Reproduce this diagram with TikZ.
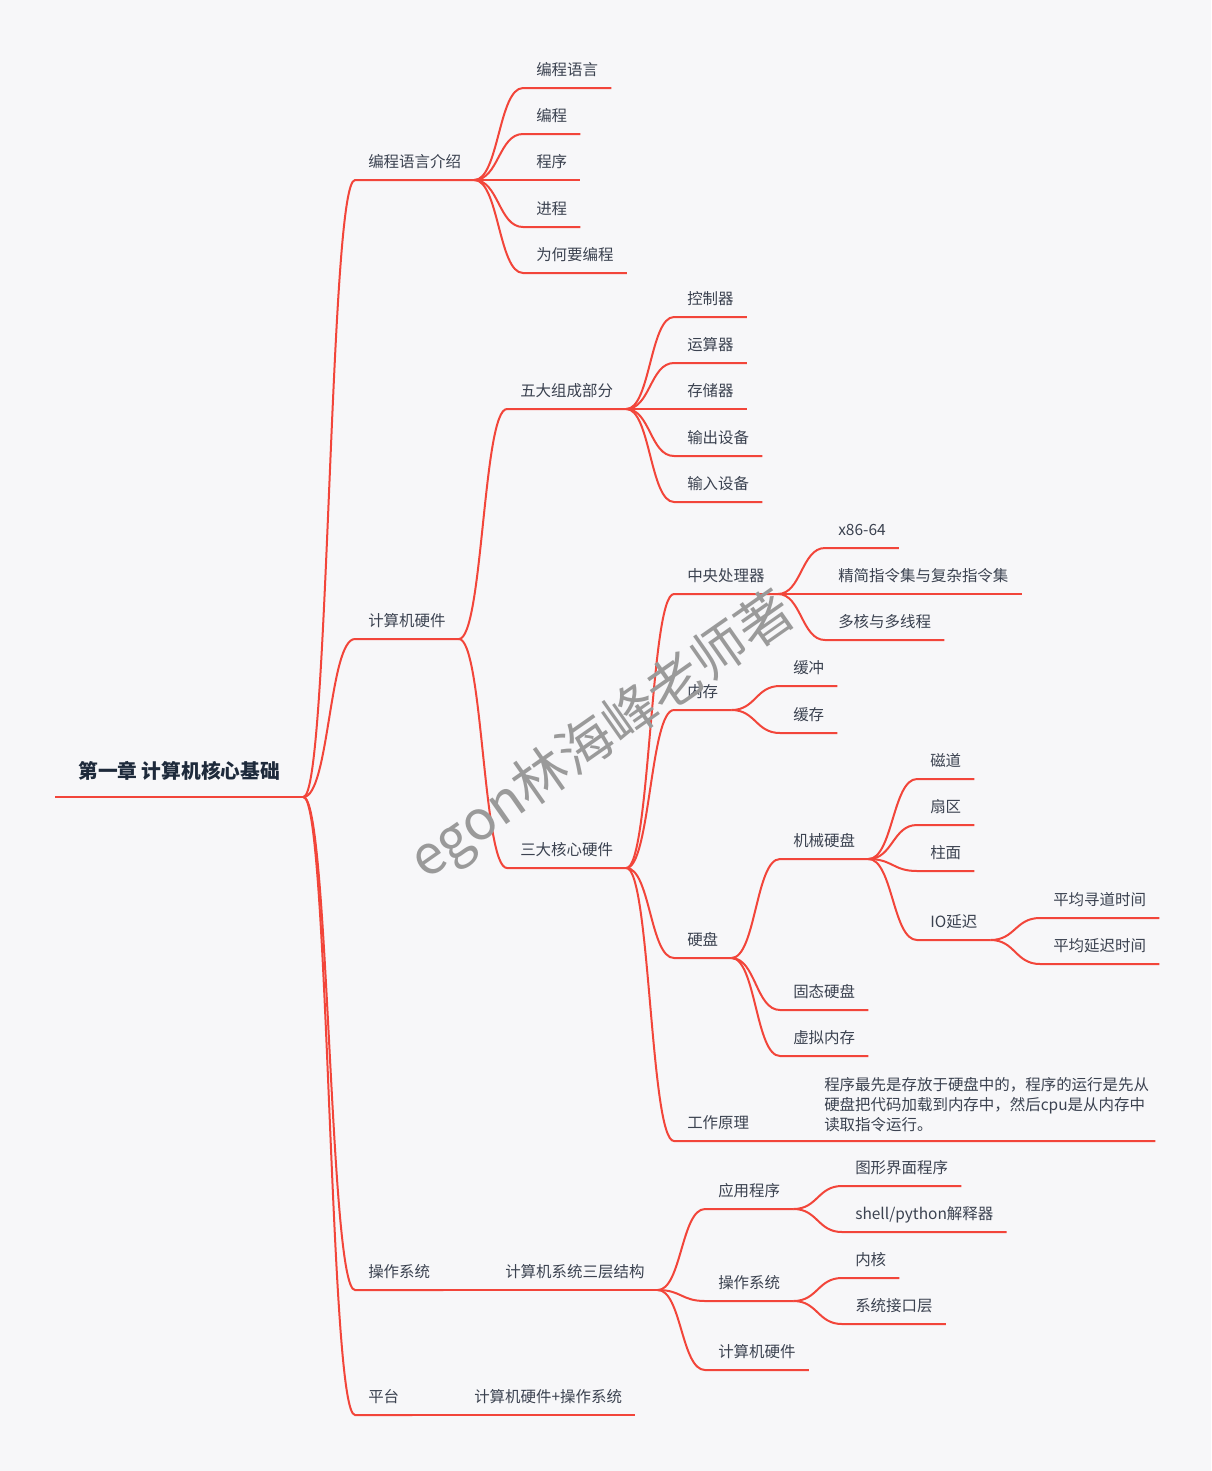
\documentclass[tikz,border=0pt]{standalone}
\usepackage{fontspec}
\setmainfont{Noto Sans CJK SC}
\usetikzlibrary{calc}
\definecolor{bg}{HTML}{F7F7F9}
\definecolor{branch}{HTML}{F2453A}
\definecolor{ink}{HTML}{3B4250}
\definecolor{rootink}{HTML}{1E2A3B}
\definecolor{wmgray}{HTML}{9A9A9A}
\begin{document}
\begin{tikzpicture}[x=0.75pt,y=-0.75pt,
    line/.style={draw=branch, line width=1.5pt},
    curve/.style={to path={let \p1=(\tikztostart), \p2=(\tikztotarget) in
      .. controls ({(\x1+\x2)/2},\y1) and ({(\x1+\x2)/2},\y2) .. (\tikztotarget)}},
    topic/.style={anchor=south west, inner xsep=9.75pt, inner ysep=0pt, text depth=9pt,
      text=ink, font=\fontsize{11.6}{15}\selectfont}]
  \fill[bg] (0,0) rectangle (1211,1471);
  \useasboundingbox (0,0) rectangle (1211,1471);

  \node[topic, inner xsep=17.25pt, text depth=13.5pt, text=rootink,
    font=\fontsize{14.8}{18}\selectfont\bfseries] (root) at (55,797) {第一章 计算机核心基础};
  \draw[line] (root.south west) -- (root.south east);

  \node[topic] (bcjs) at (355,180) {编程语言介绍};
  \node[topic] (yy) at (523,88) {编程语言};
  \node[topic] (bc) at (523,134) {编程};
  \node[topic] (cx) at (523,180) {程序};
  \node[topic] (jc) at (523,227) {进程};
  \node[topic] (wh) at (523,273) {为何要编程};

  \node[topic] (yj) at (355,639) {计算机硬件};
  \node[topic] (wd) at (507,409) {五大组成部分};
  \node[topic] (kz) at (674,317) {控制器};
  \node[topic] (ys) at (674,363) {运算器};
  \node[topic] (cc) at (674,409) {存储器};
  \node[topic] (sc) at (674,456) {输出设备};
  \node[topic] (sr) at (674,502) {输入设备};

  \node[topic] (sd) at (507,868) {三大核心硬件};
  \node[topic] (cpu) at (674,594) {中央处理器};
  \node[topic] (x86) at (825,548) {x86-64};
  \node[topic] (jj) at (825,594) {精简指令集与复杂指令集};
  \node[topic] (dh) at (825,640) {多核与多线程};
  \node[topic] (nc) at (674,710) {内存};
  \node[topic] (hc) at (780,686) {缓冲};
  \node[topic] (hcun) at (780,733) {缓存};
  \node[topic] (yp) at (674,958) {硬盘};
  \node[topic] (jx) at (780,859) {机械硬盘};
  \node[topic] (cd) at (917,779) {磁道};
  \node[topic] (sq) at (917,825) {扇区};
  \node[topic] (zm) at (917,871) {柱面};
  \node[topic] (io) at (917,940) {IO延迟};
  \node[topic] (xd) at (1040,918) {平均寻道时间};
  \node[topic] (yc) at (1040,964) {平均延迟时间};
  \node[topic] (gt) at (780,1010) {固态硬盘};
  \node[topic] (xn) at (780,1056) {虚拟内存};
  \node[topic] (gz) at (674,1141) {工作原理};
  \node[anchor=north west, inner xsep=4.5pt, inner ysep=0pt, align=left, text=ink,
    font=\fontsize{11.6}{15}\selectfont] (note) at (818,1077)
    {程序最先是存放于硬盘中的，程序的运行是先从\\硬盘把代码加载到内存中，然后cpu是从内存中\\读取指令运行。};

  \node[topic] (cz) at (355,1290) {操作系统};
  \node[topic] (sc3) at (492,1290) {计算机系统三层结构};
  \node[topic] (yycx) at (705,1209) {应用程序};
  \node[topic] (tx) at (842,1186) {图形界面程序};
  \node[topic] (sh) at (842,1232) {shell/python解释器};
  \node[topic] (czxt) at (705,1301) {操作系统};
  \node[topic] (nh) at (842,1278) {内核};
  \node[topic] (jk) at (842,1324) {系统接口层};
  \node[topic] (jsj) at (705,1370) {计算机硬件};

  \node[topic] (pt) at (355,1415) {平台};
  \node[topic] (ptnr) at (461,1415) {计算机硬件+操作系统};

  \draw[line] (root.south east) to[curve] (bcjs.south west) -- (bcjs.south east);
  \draw[line] (root.south east) to[curve] (yj.south west) -- (yj.south east);
  \draw[line] (root.south east) to[curve] (cz.south west) -- (cz.south east);
  \draw[line] (root.south east) to[curve] (pt.south west) -- (pt.south east);

  \draw[line] (bcjs.south east) to[curve] (yy.south west) -- (yy.south east);
  \draw[line] (bcjs.south east) to[curve] (bc.south west) -- (bc.south east);
  \draw[line] (bcjs.south east) to[curve] (cx.south west) -- (cx.south east);
  \draw[line] (bcjs.south east) to[curve] (jc.south west) -- (jc.south east);
  \draw[line] (bcjs.south east) to[curve] (wh.south west) -- (wh.south east);

  \draw[line] (yj.south east) to[curve] (wd.south west) -- (wd.south east);
  \draw[line] (yj.south east) to[curve] (sd.south west) -- (sd.south east);
  \draw[line] (wd.south east) to[curve] (kz.south west) -- (kz.south east);
  \draw[line] (wd.south east) to[curve] (ys.south west) -- (ys.south east);
  \draw[line] (wd.south east) to[curve] (cc.south west) -- (cc.south east);
  \draw[line] (wd.south east) to[curve] (sc.south west) -- (sc.south east);
  \draw[line] (wd.south east) to[curve] (sr.south west) -- (sr.south east);

  \draw[line] (sd.south east) to[curve] (cpu.south west) -- (cpu.south east);
  \draw[line] (sd.south east) to[curve] (nc.south west) -- (nc.south east);
  \draw[line] (sd.south east) to[curve] (yp.south west) -- (yp.south east);
  \draw[line] (sd.south east) to[curve] (gz.south west) -- (gz.south west -| note.east);
  \draw[line] (cpu.south east) to[curve] (x86.south west) -- (x86.south east);
  \draw[line] (cpu.south east) to[curve] (jj.south west) -- (jj.south east);
  \draw[line] (cpu.south east) to[curve] (dh.south west) -- (dh.south east);
  \draw[line] (nc.south east) to[curve] (hc.south west) -- (hc.south east);
  \draw[line] (nc.south east) to[curve] (hcun.south west) -- (hcun.south east);
  \draw[line] (yp.south east) to[curve] (jx.south west) -- (jx.south east);
  \draw[line] (yp.south east) to[curve] (gt.south west) -- (gt.south east);
  \draw[line] (yp.south east) to[curve] (xn.south west) -- (xn.south east);
  \draw[line] (jx.south east) to[curve] (cd.south west) -- (cd.south east);
  \draw[line] (jx.south east) to[curve] (sq.south west) -- (sq.south east);
  \draw[line] (jx.south east) to[curve] (zm.south west) -- (zm.south east);
  \draw[line] (jx.south east) to[curve] (io.south west) -- (io.south east);
  \draw[line] (io.south east) to[curve] (xd.south west) -- (xd.south east);
  \draw[line] (io.south east) to[curve] (yc.south west) -- (yc.south east);

  \draw[line] (cz.south east) -- (sc3.south west) -- (sc3.south east);
  \draw[line] (sc3.south east) to[curve] (yycx.south west) -- (yycx.south east);
  \draw[line] (sc3.south east) to[curve] (czxt.south west) -- (czxt.south east);
  \draw[line] (sc3.south east) to[curve] (jsj.south west) -- (jsj.south east);
  \draw[line] (yycx.south east) to[curve] (tx.south west) -- (tx.south east);
  \draw[line] (yycx.south east) to[curve] (sh.south west) -- (sh.south east);
  \draw[line] (czxt.south east) to[curve] (nh.south west) -- (nh.south east);
  \draw[line] (czxt.south east) to[curve] (jk.south west) -- (jk.south east);

  \draw[line] (pt.south east) -- (ptnr.south west) -- (ptnr.south east);

  \node[rotate=35, text=wmgray, font=\fontsize{41}{41}\selectfont] (wm) at (603,737) {egon林海峰老师著};
\end{tikzpicture}
\end{document}
